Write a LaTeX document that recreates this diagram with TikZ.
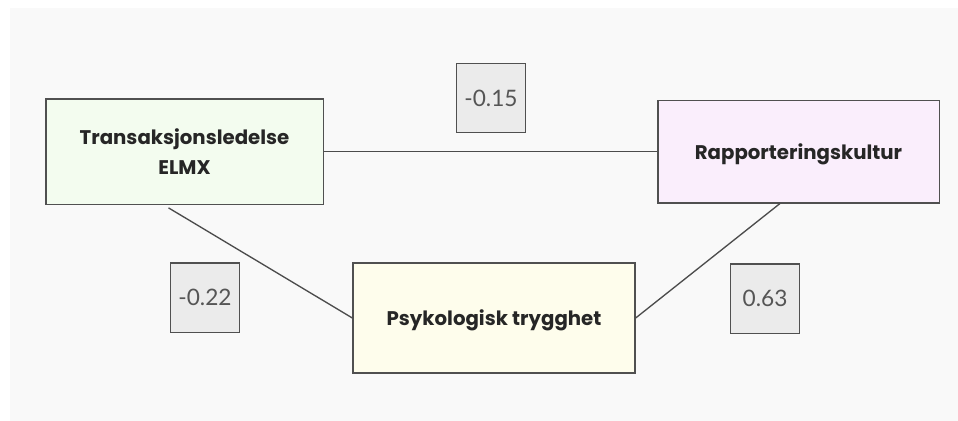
\documentclass[tikz,border=0pt]{standalone}
\usepackage{fontspec}
\setmainfont{Lato}
\newfontfamily\labelfont{Poppins}
\usetikzlibrary{calc}

\definecolor{panelgray}{HTML}{F9F9F9}
\definecolor{edgegray}{HTML}{505050}
\definecolor{greenfill}{HTML}{F3FCEF}
\definecolor{lilacfill}{HTML}{FAEEFC}
\definecolor{yellowfill}{HTML}{FEFDEC}
\definecolor{coefffill}{HTML}{EBEBEB}
\definecolor{coefftext}{HTML}{555555}

\tikzset{every picture/.style={line width=0.75pt}}
\tikzset{
  varbox/.style={draw=edgegray, line width=1pt, inner sep=0pt, align=center,
    font=\labelfont\fontsize{14.8}{23}\selectfont\bfseries, text=black!85},
  oneline/.style={text depth=0pt},
  coeffbox/.style={draw=edgegray, line width=1pt, fill=coefffill, inner sep=0pt,
    minimum width=51.5pt, minimum height=52pt,
    font=\fontsize{17}{20}\selectfont, text=coefftext},
  pathline/.style={draw=black!70, line width=1pt}
}

\begin{document}
\begin{tikzpicture}[x=0.75pt,y=0.75pt,yscale=-1,xscale=1]
\useasboundingbox (0,0) rectangle (958,421);

%Shape: Rectangle [background panel]
\fill [panelgray] (10,8) rectangle (958,421);

% Variable Nodes
\draw (184.5,151.5) node [varbox, fill=greenfill, minimum width=208pt, minimum height=79pt] (trans) {Transaksjonsledelse\\ELMX};
\draw (798.5,151.5) node [varbox, oneline, fill=lilacfill, minimum width=211pt, minimum height=77pt] (rapp) {Rapporteringskultur};
\draw (494,318) node [varbox, oneline, fill=yellowfill, minimum width=211.5pt, minimum height=82.5pt] (psyk) {Psykologisk trygghet};

% Coefficient Nodes
\draw (491,98) node [coeffbox] (ctr) {-0.15};
\draw (205,297.5) node [coeffbox] (ctp) {-0.22};
\draw (765,298.5) node [coeffbox] (cpr) {0.63};

%Straight Lines
\draw [pathline] (trans.east) -- (rapp.west) ;
%Straight Lines
\draw [pathline] ($(trans.south)+(-16,3)$) -- (psyk.west) ;
%Straight Lines
\draw [pathline] ($(rapp.south)+(-18.5,0)$) -- (psyk.east) ;

\end{tikzpicture}
\end{document}
